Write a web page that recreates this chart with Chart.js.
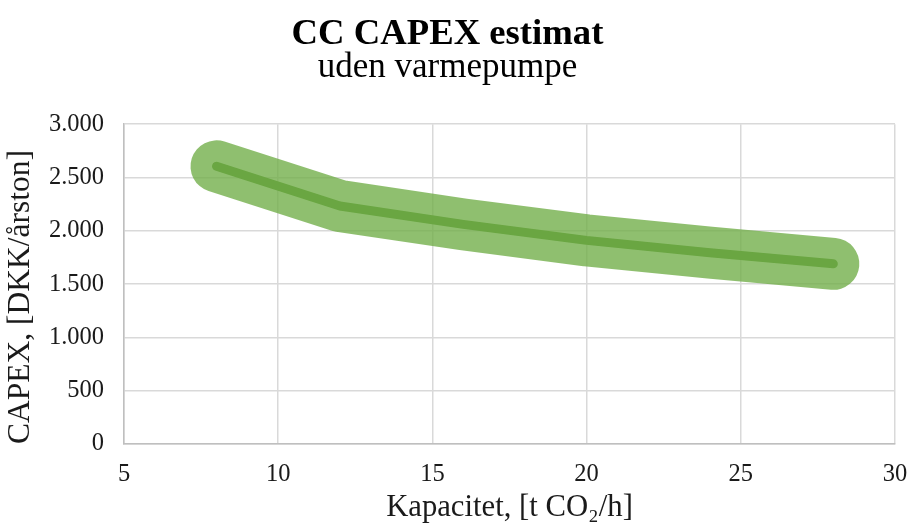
<!DOCTYPE html>
<html>
<head>
<meta charset="utf-8">
<script src="https://cdn.jsdelivr.net/npm/chart.js@4/dist/chart.umd.min.js"></script>
<style>
  html, body { margin: 0; padding: 0; background: #fff; }
  #wrap { width: 907px; height: 527px; }
</style>
</head>
<body>
<div id="wrap"><canvas id="capexChart" width="907" height="527"></canvas></div>
<script>
// Kapacitet [t CO2/h] and CAPEX [DKK/årston]
const capacity = [8, 12, 16, 20, 24, 28];
const capex = [2605, 2232, 2060, 1910, 1795, 1690];
const xTicks = [5, 10, 15, 20, 25, 30];
const yTicks = [0, 500, 1000, 1500, 2000, 2500, 3000];

const points = capacity.map((x, i) => ({ x: x, y: capex[i] }));
const serif = "'Liberation Serif', 'DejaVu Serif', serif";

function dkNumber(v) {
  return String(v).replace(/\B(?=(\d{3})+(?!\d))/g, ".");
}

const ctx = document.getElementById("capexChart").getContext("2d");
new Chart(ctx, {
  type: "scatter",
  data: {
    datasets: [
      {
        // thin dark line on top
        label: "CAPEX",
        data: points,
        showLine: true,
        borderColor: "#6aa642",
        borderWidth: 9,
        borderCapStyle: "round",
        borderJoinStyle: "round",
        pointRadius: 0,
        tension: 0,
        clip: false,
      },
      {
        // wide light band behind
        label: "Usikkerhed",
        data: points,
        showLine: true,
        borderColor: "rgba(112, 173, 71, 0.78)",
        borderWidth: 52,
        borderCapStyle: "round",
        borderJoinStyle: "round",
        pointRadius: 0,
        tension: 0,
        clip: false,
      },
    ],
  },
  options: {
    responsive: false,
    animation: false,
    layout: { padding: { left: 0, right: 12, top: 0, bottom: 0 } },
    plugins: {
      legend: { display: false },
      tooltip: { enabled: false },
      title: {
        display: true,
        text: "CC CAPEX estimat",
        color: "#000",
        font: { family: serif, size: 36.7, weight: "bold", lineHeight: 1 },
        padding: { top: 16.5, bottom: 0 },
      },
      subtitle: {
        display: true,
        text: "uden varmepumpe",
        color: "#000",
        font: { family: serif, size: 35, lineHeight: 0.8 },
        padding: { top: 1, bottom: 42 },
      },
    },
    scales: {
      x: {
        type: "linear",
        min: 5,
        max: 30,
        afterBuildTicks: (scale) => { scale.ticks = xTicks.map((v) => ({ value: v })); },
        afterFit: (scale) => {
          scale.height = 83;
          scale.paddingRight = 2;
          scale.paddingLeft = 0;
        },
        ticks: {
          color: "#1a1a1a",
          font: { family: serif, size: 24.5 },
          padding: 16,
        },
        grid: { color: "#d9d9d9", lineWidth: 1.5, drawTicks: false },
        border: { color: "#bfbfbf", width: 1.5 },
        title: {
          display: true,
          text: "Kapacitet, [t CO₂/h]",
          color: "#1a1a1a",
          font: { family: serif, size: 30.7 },
          padding: { top: 0, bottom: 1 },
        },
      },
      y: {
        type: "linear",
        min: 0,
        max: 3000,
        afterBuildTicks: (scale) => { scale.ticks = yTicks.map((v) => ({ value: v })); },
        afterFit: (scale) => { scale.width = 124; },
        ticks: {
          color: "#1a1a1a",
          font: { family: serif, size: 24.5 },
          padding: 20,
          callback: (v) => dkNumber(v),
        },
        grid: { color: "#d9d9d9", lineWidth: 1.5, drawTicks: false },
        border: { color: "#bfbfbf", width: 1.5 },
        title: {
          display: true,
          align: "start",
          text: "CAPEX, [DKK/årston]",
          color: "#1a1a1a",
          font: { family: serif, size: 31.5 },
          padding: { top: 2, bottom: 0 },
        },
      },
    },
  },
});
</script>
</body>
</html>
